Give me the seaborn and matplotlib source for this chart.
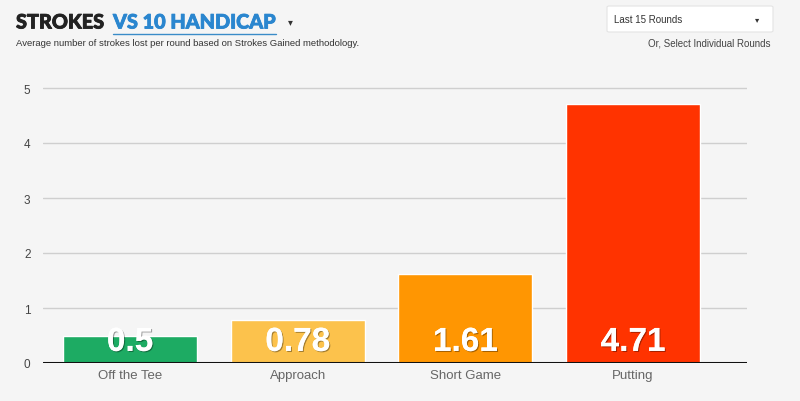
import matplotlib
matplotlib.use("Agg")
import matplotlib.pyplot as plt
import matplotlib.patheffects as pe
from matplotlib.patches import FancyBboxPatch
import seaborn as sns
import pandas as pd

categories = ["Off the Tee", "Approach", "Short Game", "Putting"]
values = [0.5, 0.78, 1.61, 4.71]
value_labels = ["0.5", "0.78", "1.61", "4.71"]
colors = ["#1dab63", "#fcc24c", "#ff9602", "#ff3300"]
yticks = [0, 1, 2, 3, 4, 5]

sns.set_theme(style="white")
plt.rcParams['font.family'] = ['Liberation Sans', 'DejaVu Sans']

BG = "#f5f5f5"
fig = plt.figure(figsize=(8.0, 4.02), dpi=100, facecolor=BG)
W, H = 800, 402
ax = fig.add_axes([43 / W, (H - 364) / H, (747 - 43) / W, (364 - 78) / H])
ax.set_facecolor(BG)

df = pd.DataFrame({"cat": categories, "val": values})
sns.barplot(data=df, x="cat", y="val", hue="cat", palette=colors,
            width=0.8, legend=False, ax=ax, saturation=1, zorder=3)

ax.set_xlim(-0.52, 3.68)
ax.set_ylim(0, 5.2)
ax.set_yticks(yticks)
ax.yaxis.grid(True, color="#cfcfcf", linewidth=1.0, zorder=0)
ax.xaxis.grid(False)
ax.set_axisbelow(True)
for s in ax.spines.values():
    s.set_visible(False)
ax.axhline(0, color="#111111", linewidth=2.2, zorder=4)
ax.set_xlabel("")
ax.set_ylabel("")
ax.tick_params(axis="y", length=0, pad=9, labelsize=8.5, labelcolor="#444444")
ax.tick_params(axis="x", length=0, pad=4, labelsize=9.5, labelcolor="#666666")

for i, (v, lab) in enumerate(zip(values, value_labels)):
    t = ax.text(i, 0.22, lab, ha="center", va="baseline", color="white",
                fontsize=24, fontweight="bold", zorder=5)
    t.set_path_effects([pe.withSimplePatchShadow(offset=(0.8, -0.8), shadow_rgbFace="#000000", alpha=0.35),
                        pe.Normal()])

# Title
TF = ["Lato", "DejaVu Sans"]
t1 = fig.text(16 / W, 1 - 23 / H, "STROKES", ha="left", va="center", fontsize=14.3,
              fontweight="black", color="#222222", family=TF)
t1.set_path_effects([pe.withStroke(linewidth=0.6, foreground="#222222")])
fig.canvas.draw()
bb = t1.get_window_extent()
x2 = bb.x1 + 9
t2 = fig.text(x2 / W, 1 - 23 / H, "VS 10 HANDICAP", ha="left", va="center", fontsize=14.3,
              fontweight="black", color="#2a86cf", family=TF)
t2.set_path_effects([pe.withStroke(linewidth=0.6, foreground="#2a86cf")])
fig.canvas.draw()
bb2 = t2.get_window_extent()
fig.add_artist(plt.Line2D([bb2.x0 / W, bb2.x1 / W], [1 - 35 / H, 1 - 35 / H],
                          color="#3a8cc8", linewidth=1.0))
fig.text((bb2.x1 + 15) / W, 1 - 22 / H, "▾", ha="center", va="center", fontsize=7, color="#333333",
         family=["DejaVu Sans"])
fig.text(16 / W, 1 - 44 / H, "Average number of strokes lost per round based on Strokes Gained methodology.",
         ha="left", va="center", fontsize=6.8, color="#333333")

# Dropdown
box = FancyBboxPatch((607 / W, 1 - 33 / H), (773 - 607) / W, 26 / H,
                     boxstyle="round,pad=0,rounding_size=0.003", transform=fig.transFigure,
                     facecolor="white", edgecolor="#e4e4e4", linewidth=0.8)
fig.add_artist(box)
fig.text(614 / W, 1 - 20 / H, "Last 15 Rounds", ha="left", va="center", fontsize=7,
         color="#333333")
fig.text(757 / W, 1 - 20 / H, "▾", ha="center", va="center", fontsize=6, color="#333333",
         family=["DejaVu Sans"])
fig.text(771 / W, 1 - 44 / H, "Or, Select Individual Rounds", ha="right", va="center",
         fontsize=7, color="#444444")

fig.savefig("out.png", dpi=100, facecolor=BG)
